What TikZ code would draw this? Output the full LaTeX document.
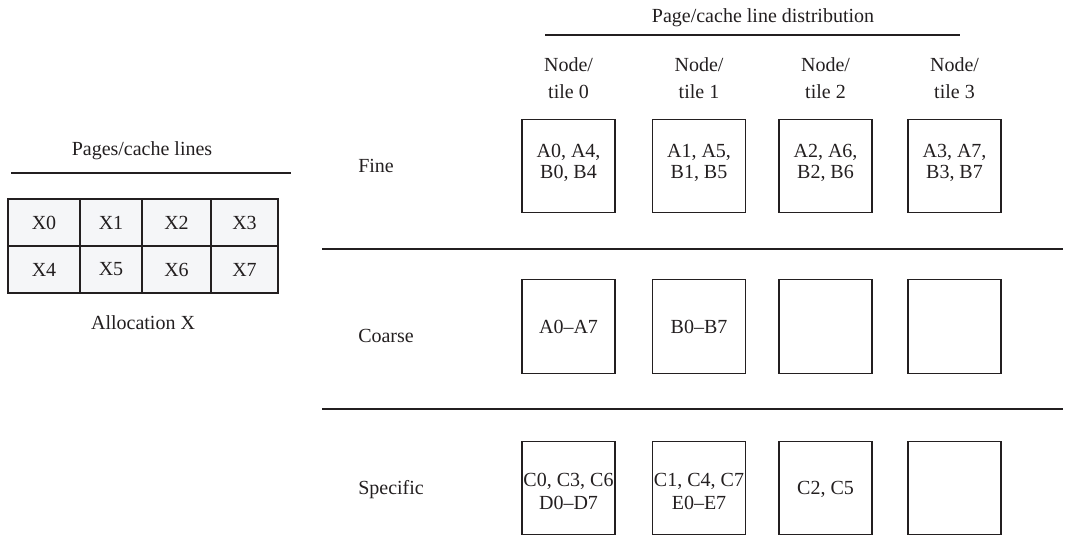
\documentclass[tikz,border=0pt]{standalone}
\usepackage{fontspec}
\setmainfont{Liberation Serif}
\definecolor{ink}{HTML}{231F20}
\definecolor{cellfill}{HTML}{F5F6F8}
\tikzset{
  txt/.style={text=ink, font=\fontsize{15}{20}\selectfont, inner sep=0pt, align=center},
  rowlbl/.style={txt, anchor=west},
  rule/.style={draw=ink, line width=0.9pt},
  tilebox/.style={draw=ink, line width=0.8pt, minimum width=69.75pt, minimum height=70pt, inner sep=0pt},
  tiletext/.style={text=ink, inner sep=0pt, align=center},
  finetxt/.style={tiletext, font=\fontsize{15}{16.3}\selectfont},
  spectxt/.style={tiletext, font=\fontsize{15}{17.5}\selectfont},
  cell/.style={draw=ink, line width=0.8pt, fill=cellfill, text=ink, minimum height=35.25pt, inner sep=0pt, font=\fontsize{15}{16}\selectfont},
}
\begin{document}
\begin{tikzpicture}[x=0.75pt,y=-0.75pt]
\useasboundingbox (0,0) rectangle (1065,560);
% left part
\node[txt] (pagesT) at (142,151) {Pages/cache lines};
\coordinate (pl) at (11,173);
\coordinate (pr) at (291,173);
\draw[rule] (pl) -- (pr);
\node[cell, minimum width=54pt]    (x0) at (44,222.5)  {X0};
\node[cell, minimum width=46.5pt]  (x1) at (111,222.5) {X1};
\node[cell, minimum width=51.75pt] (x2) at (176.5,222.5) {X2};
\node[cell, minimum width=50.25pt] (x3) at (244.5,222.5) {X3};
\node[cell, minimum width=54pt]    (x4) at (44,269.5)  {X4};
\node[cell, minimum width=46.5pt]  (x5) at (111,269.5) {X5};
\node[cell, minimum width=51.75pt] (x6) at (176.5,269.5) {X6};
\node[cell, minimum width=50.25pt] (x7) at (244.5,269.5) {X7};
\node[txt] (allocX) at (143,323) {Allocation X};
% right header
\node[txt] (dist) at (763,18) {Page/cache line distribution};
\coordinate (dl) at (545,35);
\coordinate (dr) at (960,35);
\draw[rule] (dl) -- (dr);
\node[txt] (h0) at (568.5,78) {Node/\\tile 0};
\node[txt] (h1) at (699,78) {Node/\\tile 1};
\node[txt] (h2) at (825.5,78) {Node/\\tile 2};
\node[txt] (h3) at (954.5,78) {Node/\\tile 3};
% row labels
\node[rowlbl] (fine) at (358,166) {Fine};
\node[rowlbl] (coarse) at (358,336) {Coarse};
\node[rowlbl] (spec) at (358,490) {Specific};
% separators
\coordinate (s1l) at (322,249);
\coordinate (s1r) at (1063,249);
\coordinate (s2l) at (322,409);
\coordinate (s2r) at (1063,409);
\draw[rule] (s1l) -- (s1r);
\draw[rule] (s2l) -- (s2r);
% fine
\node[tilebox] (f0) at (568.5,166) {};
\node[tilebox] (f1) at (699,166) {};
\node[tilebox] (f2) at (825.5,166) {};
\node[tilebox] (f3) at (954.5,166) {};
\node[finetxt] (f0t) at (568.5,163) {A0, A4,\\B0, B4};
\node[finetxt] (f1t) at (699,163) {A1, A5,\\B1, B5};
\node[finetxt] (f2t) at (825.5,163) {A2, A6,\\B2, B6};
\node[finetxt] (f3t) at (954.5,163) {A3, A7,\\B3, B7};
% coarse
\node[tilebox] (g0) at (568.5,326.5) {};
\node[tilebox] (g1) at (699,326.5) {};
\node[tilebox] (g2) at (825.5,326.5) {};
\node[tilebox] (g3) at (954.5,326.5) {};
\node[finetxt] (g0t) at (568.5,326.5) {A0--A7};
\node[finetxt] (g1t) at (699,326.5) {B0--B7};
% specific
\node[tilebox] (p0) at (568.5,488) {};
\node[tilebox] (p1) at (699,488) {};
\node[tilebox] (p2) at (825.5,488) {};
\node[tilebox] (p3) at (954.5,488) {};
\node[spectxt] (p0t) at (568.5,491.5) {C0, C3, C6\\D0--D7};
\node[spectxt] (p1t) at (699,491.5) {C1, C4, C7\\E0--E7};
\node[spectxt] (p2t) at (825.5,489) {C2, C5};
\end{tikzpicture}
\end{document}
